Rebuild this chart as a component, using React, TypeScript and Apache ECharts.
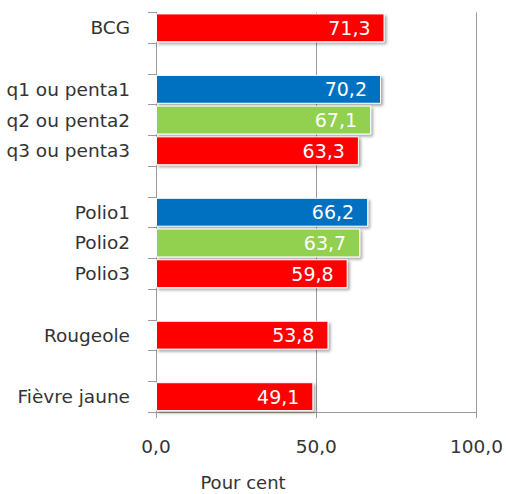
import React, { useEffect, useRef } from "react";
import * as echarts from "echarts";

const categories = [
  "BCG",
  " ",
  "q1 ou penta1",
  "q2 ou penta2",
  "q3 ou penta3",
  "  ",
  "Polio1",
  "Polio2",
  "Polio3",
  "   ",
  "Rougeole",
  "    ",
  "Fièvre jaune",
];
const values: (number | null)[] = [71.3, null, 70.2, 67.1, 63.3, null, 66.2, 63.7, 59.8, null, 53.8, null, 49.1];
const barColors = ["#FF0000", "#FF0000", "#0070C0", "#92D050", "#FF0000", "#FF0000", "#0070C0", "#92D050", "#FF0000", "#FF0000", "#FF0000", "#FF0000", "#FF0000"];
const xTicks = [0, 50, 100];
const xTitle = "Pour cent";

const FONT = "DejaVu Sans";
const fmt = (v: number) => v.toFixed(1).replace(".", ",");

export default function App() {
  const ref = useRef<HTMLDivElement>(null);
  useEffect(() => {
    if (!ref.current) return;
    const chart = echarts.init(ref.current, undefined, { renderer: "svg" });
    chart.setOption({
      animation: false,
      backgroundColor: "#ffffff",
      grid: { left: 156, right: 28, top: 12.5, bottom: 82, containLabel: false },
      xAxis: {
        type: "value",
        min: xTicks[0],
        max: xTicks[xTicks.length - 1],
        interval: xTicks[1] - xTicks[0],
        axisLine: { show: true, lineStyle: { color: "#9a9a9a", width: 1 } },
        axisTick: { show: true, length: 6, lineStyle: { color: "#9a9a9a" } },
        splitLine: { show: true, lineStyle: { color: "#9a9a9a", width: 1 } },
        axisLabel: {
          formatter: (v: number) => fmt(v),
          fontFamily: FONT,
          fontSize: 18.5,
          color: "#333333",
          margin: 25,
        },
      },
      yAxis: {
        type: "category",
        data: categories,
        inverse: true,
        axisLine: { show: true, lineStyle: { color: "#9a9a9a", width: 1 } },
        axisTick: { show: true, length: 8, lineStyle: { color: "#9a9a9a" } },
        axisLabel: {
          fontFamily: FONT,
          fontSize: 18.5,
          color: "#333333",
          margin: 26,
        },
      },
      series: [
        {
          type: "bar",
          barCategoryGap: "6%",
          data: values.map((v, i) =>
            v === null
              ? "-"
              : { value: v, itemStyle: { color: barColors[i] } }
          ),
          itemStyle: {
            borderColor: "#ffffff",
            borderWidth: 1,
            shadowBlur: 3,
            shadowColor: "rgba(0,0,0,0.35)",
            shadowOffsetX: 2,
            shadowOffsetY: 2,
          },
          label: {
            show: true,
            position: "insideRight",
            distance: 14,
            formatter: (p: any) => fmt(p.value),
            fontFamily: FONT,
            fontSize: 19,
            fontWeight: 500,
            color: "#ffffff",
          },
        },
      ],
      graphic: [
        {
          type: "text",
          x: 243,
          y: 473,
          style: {
            text: xTitle,
            fontFamily: FONT,
            fontSize: 18,
            fill: "#333333",
            textAlign: "center",
            textVerticalAlign: "top",
          },
        },
      ],
    });
    return () => chart.dispose();
  }, []);
  return (
    <div
      ref={ref}
      style={{ position: "fixed", left: 0, top: 0, width: 506, height: 494 }}
    />
  );
}
